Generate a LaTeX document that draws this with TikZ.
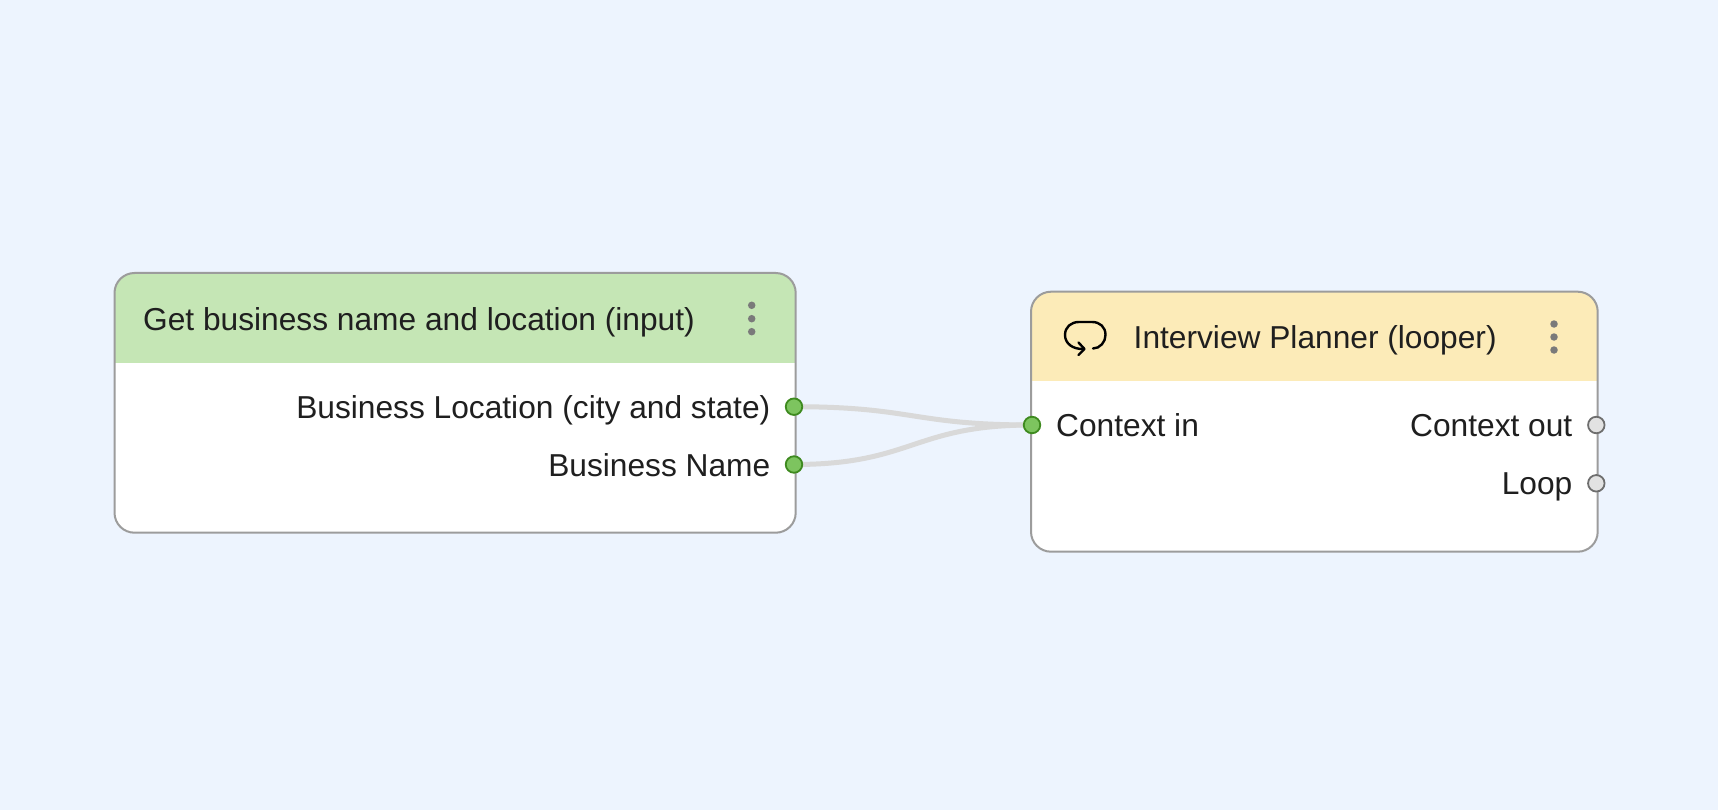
\documentclass[tikz,border=0pt]{standalone}
\usepackage{fontspec}
\setmainfont{Liberation Sans}
\definecolor{bgc}{HTML}{EDF4FE}
\definecolor{edgec}{HTML}{9C9C9C}
\definecolor{greenh}{HTML}{C5E6B5}
\definecolor{yellowh}{HTML}{FCEBB8}
\definecolor{wirec}{HTML}{D9D9D9}
\definecolor{portg}{HTML}{7DC45F}
\definecolor{portgd}{HTML}{3E8A1F}
\definecolor{portn}{HTML}{E2E2E2}
\definecolor{portnd}{HTML}{6E6E6E}
\definecolor{dotc}{HTML}{7A7A7A}
\definecolor{txt}{HTML}{1F1F1F}
\tikzset{
  x=1pt,y=-1pt,
  lbl/.style={font=\fontsize{31.7}{32}\selectfont,text=txt,inner sep=0pt},
  portgreen/.style={circle,draw=portgd,fill=portg,line width=1.8pt,minimum size=16.5pt,inner sep=0pt},
  portgray/.style={circle,draw=portnd,fill=portn,line width=1.8pt,minimum size=16.5pt,inner sep=0pt},
  wire/.style={draw=wirec,line width=5pt},
  frame/.style={draw=edgec,line width=2pt,rounded corners=20pt},
  menudot/.style={circle,fill=dotc,minimum size=7.5pt,inner sep=0pt}
}
\begin{document}
\begin{tikzpicture}
\useasboundingbox[fill=bgc] (0,0) rectangle (1718,810);
% left box
\fill[white,rounded corners=20pt] (114.5,273) rectangle (795.7,532.7);
\begin{scope}
\clip[rounded corners=20pt] (114.5,273) rectangle (795.7,532.7);
\fill[greenh] (114.5,273) rectangle (795.7,362.7);
\end{scope}
\draw[frame] (114.5,273) rectangle (795.7,532.7);
% right box
\fill[white,rounded corners=20pt] (1031,291.7) rectangle (1597.7,551.7);
\begin{scope}
\clip[rounded corners=20pt] (1031,291.7) rectangle (1597.7,551.7);
\fill[yellowh] (1031,291.7) rectangle (1597.7,381);
\end{scope}
\draw[frame] (1031,291.7) rectangle (1597.7,551.7);
% ports
\coordinate (pa) at (794,406.7);
\coordinate (pb) at (794,464.5);
\coordinate (pc) at (1032,425);
\draw[wire] (pa) .. controls (913,406.7) and (913,425) .. (pc);
\draw[wire] (pb) .. controls (913,464.5) and (913,425) .. (pc);
\node[portgreen] (loc) at (pa) {};
\node[portgreen] (name) at (pb) {};
\node[portgreen] (ctxin) at (pc) {};
\node[portgray] (ctxout) at (1596.3,425) {};
\node[portgray] (loop) at (1596.3,483.3) {};
% text
\node[lbl,anchor=base west] (t1) at (143,330.3) {Get business name and location (input)};
\node[lbl,anchor=base east] (t2) at (770.5,418.3) {Business Location (city and state)};
\node[lbl,anchor=base east] (t3) at (770.5,476.3) {Business Name};
\node[lbl,anchor=base west] (t4) at (1133.5,348.8) {Interview Planner (looper)};
\node[lbl,anchor=base west] (t5) at (1056,436.8) {Context in};
\node[lbl,anchor=base east] (t6) at (1572.5,436.8) {Context out};
\node[lbl,anchor=base east] (t7) at (1572.5,494.8) {Loop};
% menu dots
\foreach \n/\y in {a/305.3,b/318.7,c/331.7}{\node[menudot] (l\n) at (751.7,\y) {};}
\foreach \n/\y in {a/324,b/337,c/350}{\node[menudot] (r\n) at (1554,\y) {};}
% loop icon
\draw[black,line width=2.4pt,line cap=round,line join=round]
  (1084,349) .. controls (1072,349.5) and (1065,343) .. (1065,335)
  .. controls (1065,327) and (1071,322) .. (1079,322)
  -- (1092,322)
  .. controls (1100,322) and (1105.5,327) .. (1105.5,335)
  .. controls (1105.5,342) and (1100,348.5) .. (1093,348.5);
\draw[black,line width=2.4pt,line cap=round,line join=round]
  (1078.5,342.5) -- (1084.5,349) -- (1078.5,355);
\end{tikzpicture}
\end{document}
